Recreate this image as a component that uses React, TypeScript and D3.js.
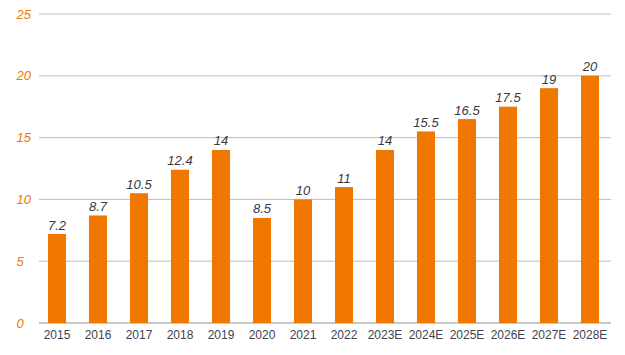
import React from "react";
import * as d3 from "d3";

const categories = ["2015","2016","2017","2018","2019","2020","2021","2022","2023E","2024E","2025E","2026E","2027E","2028E"];
const values = [7.2, 8.7, 10.5, 12.4, 14, 8.5, 10, 11, 14, 15.5, 16.5, 17.5, 19, 20];
const yTicks = [0, 5, 10, 15, 20, 25];

const W = 625, H = 355;

export default function App() {
  const x = d3.scaleBand<string>().domain(categories).range([36.5, 610.5]).paddingInner(0.56).paddingOuter(0.28);
  const y = d3.scaleLinear().domain([0, 25]).range([323, 14]);
  const font = "'Liberation Sans', Arial, sans-serif";
  return (
    <svg width={W} height={H} style={{ position: "absolute", left: 0, top: 0, background: "#fff" }} fontFamily={font}>
      {yTicks.map((t) => (
        <g key={t}>
          <line x1={39} x2={611} y1={y(t)} y2={y(t)} stroke={t === 0 ? "#c8c8c8" : "#bdbdbd"} strokeWidth={t === 0 ? 2 : 1} />
          <text x={16.5} y={y(t)} dy="0.35em" textAnchor="start" fontSize={13} fontStyle="italic" fill="#f07800">{t}</text>
        </g>
      ))}
      {categories.map((c, i) => (
        <g key={c}>
          <rect x={x(c)} y={y(values[i])} width={x.bandwidth()} height={y(0) - y(values[i])} fill="#f07800" />
          <text x={(x(c) as number) + x.bandwidth() / 2} y={y(values[i]) - 4.5} textAnchor="middle" fontSize={13} fontStyle="italic" fill="#383844">{values[i]}</text>
          <text x={(x(c) as number) + x.bandwidth() / 2} y={339} textAnchor="middle" fontSize={12} fill="#404450">{c}</text>
        </g>
      ))}
    </svg>
  );
}
